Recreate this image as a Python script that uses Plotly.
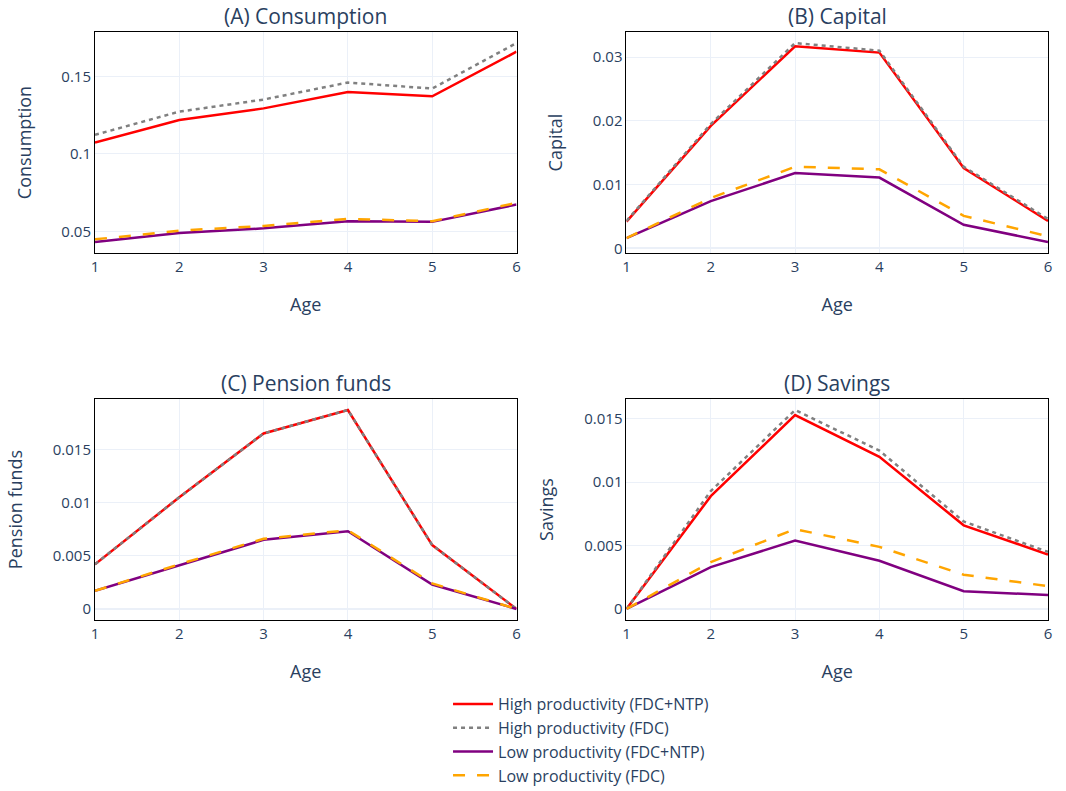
import plotly.graph_objects as go
from plotly.subplots import make_subplots

# Age groups
ages = [1, 2, 3, 4, 5, 6]

# (A) Consumption
cons_high_ntp = [0.1074, 0.1219, 0.1294, 0.1400, 0.1372, 0.1660]
cons_high_fdc = [0.1123, 0.1273, 0.1351, 0.1461, 0.1422, 0.1716]
cons_low_ntp = [0.0431, 0.0489, 0.0519, 0.0565, 0.0561, 0.0673]
cons_low_fdc = [0.0448, 0.0504, 0.0535, 0.0580, 0.0565, 0.0684]

# (B) Capital
cap_high_ntp = [0.0042, 0.0192, 0.0317, 0.0307, 0.0126, 0.0043]
cap_high_fdc = [0.0043, 0.0195, 0.0322, 0.0310, 0.0128, 0.0046]
cap_low_ntp = [0.0016, 0.0074, 0.0118, 0.0111, 0.0037, 0.0010]
cap_low_fdc = [0.0016, 0.0079, 0.0128, 0.0124, 0.0051, 0.0019]

# (C) Pension funds
pen_high_ntp = [0.0042, 0.0105, 0.0165, 0.0187, 0.0060, 0.0]
pen_high_fdc = [0.0042, 0.0105, 0.0165, 0.0187, 0.0060, 0.0]
pen_low_ntp = [0.0017, 0.0041, 0.0065, 0.0073, 0.0023, 0.0]
pen_low_fdc = [0.0017, 0.0042, 0.0066, 0.0074, 0.0024, 0.0]

# (D) Savings
sav_high_ntp = [0.0, 0.0089, 0.0153, 0.0120, 0.0066, 0.0043]
sav_high_fdc = [0.0, 0.0093, 0.0157, 0.0125, 0.0069, 0.0045]
sav_low_ntp = [0.0, 0.0033, 0.0054, 0.0038, 0.0014, 0.0011]
sav_low_fdc = [0.0, 0.0037, 0.0063, 0.0049, 0.0027, 0.0018]

series_names = [
    "High productivity (FDC+NTP)",
    "High productivity (FDC)",
    "Low productivity (FDC+NTP)",
    "Low productivity (FDC)",
]
series_styles = [
    dict(color="red", dash="solid"),
    dict(color="gray", dash="4px,4px"),
    dict(color="purple", dash="solid"),
    dict(color="orange", dash="12px,12px"),
]

panels = [
    ("(A) Consumption", "Consumption", [cons_high_ntp, cons_high_fdc, cons_low_ntp, cons_low_fdc]),
    ("(B) Capital", "Capital", [cap_high_ntp, cap_high_fdc, cap_low_ntp, cap_low_fdc]),
    ("(C) Pension funds", "Pension funds", [pen_high_ntp, pen_high_fdc, pen_low_ntp, pen_low_fdc]),
    ("(D) Savings", "Savings", [sav_high_ntp, sav_high_fdc, sav_low_ntp, sav_low_fdc]),
]

fig = make_subplots(
    rows=2, cols=2,
    subplot_titles=[p[0] for p in panels],
    horizontal_spacing=0.1154,
    vertical_spacing=0.2482,
)

for i, (title, ylabel, data) in enumerate(panels):
    r, c = i // 2 + 1, i % 2 + 1
    for name, style, vals in zip(series_names, series_styles, data):
        fig.add_trace(
            go.Scatter(
                x=ages, y=vals, mode="lines", name=name,
                line=dict(color=style["color"], dash=style["dash"], width=2.5),
                showlegend=(i == 0),
            ),
            row=r, col=c,
        )
    fig.update_xaxes(title_text="Age", title_standoff=23, dtick=1, row=r, col=c)
    fig.update_yaxes(title_text=ylabel, title_standoff=25, row=r, col=c)

fig.update_xaxes(showline=True, linecolor="black", linewidth=1, mirror=True)
fig.update_yaxes(showline=True, linecolor="black", linewidth=1, mirror=True)

fig.update_annotations(font=dict(size=21))

fig.update_layout(
    template="plotly_white",
    font=dict(family="Open Sans", size=15, color="#2a3f5f"),
    margin=dict(l=95, r=18, t=32, b=171, autoexpand=False),
    legend=dict(
        orientation="v", x=0.51, xanchor="center", y=-0.114, yanchor="top",
        font=dict(size=16), itemwidth=40,
    ),
)

fig.write_html("out.html")
